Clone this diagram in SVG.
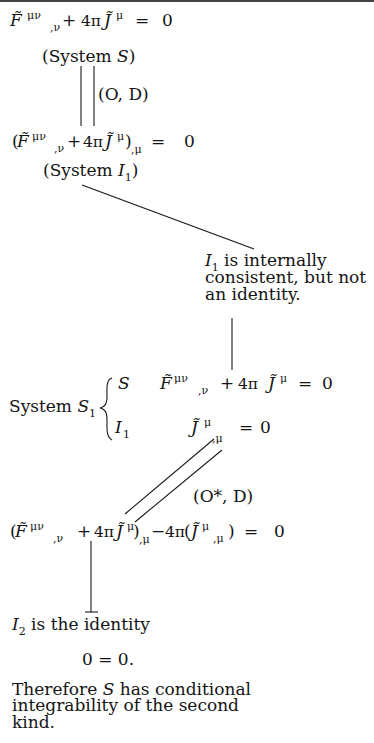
<svg xmlns="http://www.w3.org/2000/svg" width="374" height="743" viewBox="0 0 374 743">
<style>
text{font-family:"DejaVu Serif","Liberation Serif",serif;font-size:17px;fill:#141414}
.i{font-style:italic}
.s{font-size:11px}
.p{font-size:15.5px}
.c{stroke:#1a1a1a;stroke-width:1.1;fill:none}
</style>
<rect width="374" height="743" fill="#fff"/>
<line x1="0" y1="1" x2="374" y2="1" stroke="#444" stroke-width="2"/>
<g id="eq-S">
<text><tspan class="i" x="10" y="26">F&#x303;</tspan><tspan class="s" x="27" y="19">μν</tspan><tspan class="s" x="50" y="31">,ν</tspan><tspan x="62" y="26">+</tspan><tspan class="p" x="81" y="26">4π</tspan><tspan class="i" x="104" y="26">J&#x303;</tspan><tspan class="s" x="116" y="19">μ</tspan><tspan x="135" y="26">=</tspan><tspan x="162" y="26">0</tspan></text>
</g>
<g id="label-S">
<text x="42" y="62">(System <tspan class="i">S</tspan>)</text>
</g>
<g id="label-OD">
<text x="98" y="100">(O, D)</text>
</g>
<g id="eq-I1">
<text><tspan x="12" y="147">(</tspan><tspan class="i" x="17" y="147">F&#x303;</tspan><tspan class="s" x="32" y="140">μν</tspan><tspan class="s" x="54" y="152">,ν</tspan><tspan x="67" y="147">+</tspan><tspan class="p" x="83" y="147">4π</tspan><tspan class="i" x="105" y="147">J&#x303;</tspan><tspan class="s" x="117" y="140">μ</tspan><tspan x="125" y="147">)</tspan><tspan class="s" x="131" y="153">,μ</tspan><tspan x="151" y="147">=</tspan><tspan x="184" y="147">0</tspan></text>
</g>
<g id="label-I1">
<text x="43" y="176">(System <tspan class="i">I</tspan><tspan class="s" dy="5">1</tspan><tspan dy="-5">)</tspan></text>
</g>
<g id="note-I1">
<text x="205" y="266"><tspan class="i">I</tspan><tspan class="s" dy="5">1</tspan><tspan dy="-5"> is internally</tspan></text>
<text x="205" y="283">consistent, but not</text>
<text x="205" y="300">an identity.</text>
</g>
<g id="system-S1">
<text x="9" y="412">System <tspan class="i">S</tspan><tspan class="s" dy="5">1</tspan></text>
<path class="c" d="M112,378 C106,380 107,388 107,396 C107,404 105,407 100,408 C105,409 107,412 107,420 C107,428 106,437 112,440"/>
<text class="i" x="118" y="389">S</text>
<text><tspan class="i" x="115" y="433">I</tspan><tspan class="s" x="123" y="438">1</tspan></text>
<text><tspan class="i" x="160" y="389">F&#x303;</tspan><tspan class="s" x="174" y="382">μν</tspan><tspan class="s" x="198" y="394">,ν</tspan><tspan x="220" y="389">+</tspan><tspan class="p" x="238" y="389">4π</tspan><tspan class="i" x="268" y="389">J&#x303;</tspan><tspan class="s" x="280" y="382">μ</tspan><tspan x="298" y="389">=</tspan><tspan x="322" y="389">0</tspan></text>
<text><tspan class="i" x="191" y="433">J&#x303;</tspan><tspan class="s" x="204" y="426">μ</tspan><tspan class="s" x="212" y="442">,μ</tspan><tspan x="239" y="433">=</tspan><tspan x="260" y="433">0</tspan></text>
</g>
<g id="label-OstarD">
<text x="193" y="502">(O*, D)</text>
</g>
<g id="eq-I2">
<text><tspan x="10" y="537">(</tspan><tspan class="i" x="15" y="537">F&#x303;</tspan><tspan class="s" x="30" y="530">μν</tspan><tspan class="s" x="53" y="542">,ν</tspan><tspan x="77" y="537">+</tspan><tspan class="p" x="94" y="537">4π</tspan><tspan class="i" x="116" y="537">J&#x303;</tspan><tspan class="s" x="127" y="530">μ</tspan><tspan x="133" y="537">)</tspan><tspan class="s" x="139" y="543">,μ</tspan><tspan x="151" y="537">−</tspan><tspan class="p" x="165" y="537">4π</tspan><tspan x="184" y="537">(</tspan><tspan class="i" x="191" y="537">J&#x303;</tspan><tspan class="s" x="202" y="530">μ</tspan><tspan class="s" x="213" y="542">,μ</tspan><tspan x="228" y="537">)</tspan><tspan x="244" y="537">=</tspan><tspan x="274" y="537">0</tspan></text>
</g>
<g id="note-I2">
<text x="12" y="630"><tspan class="i">I</tspan><tspan class="s" dy="5">2</tspan><tspan dy="-5"> is the identity</tspan></text>
<text x="82" y="665">0 = 0.</text>
</g>
<g id="conclusion">
<text x="12" y="695">Therefore <tspan class="i">S</tspan> has conditional</text>
<text x="12" y="711">integrability of the second</text>
<text x="12" y="728">kind.</text>
</g>
<g id="connectors">
<line class="c" x1="81" y1="66" x2="81" y2="126"/>
<line class="c" x1="94" y1="66" x2="94" y2="126"/>
<line class="c" x1="82" y1="185" x2="254" y2="249"/>
<line class="c" x1="232" y1="318" x2="232" y2="370"/>
<line class="c" x1="214" y1="439" x2="125" y2="514"/>
<line class="c" x1="222" y1="450" x2="135" y2="522"/>
<line class="c" x1="91" y1="541" x2="91" y2="612"/>
<line class="c" x1="85" y1="612" x2="98" y2="612" stroke-width="1.8"/>
</g>
</svg>
